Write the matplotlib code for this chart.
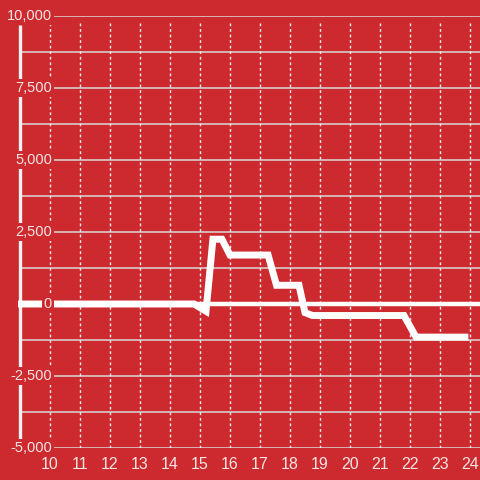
import matplotlib
matplotlib.use("Agg")
import matplotlib.pyplot as plt
import matplotlib.transforms as mtrans

# data
hours = [8.93, 14.8, 15.2, 15.43, 15.73, 16.0, 17.27, 17.55, 18.3, 18.5, 18.75, 21.8, 22.2, 23.83]
values = [0, 0, -250, 2250, 2250, 1700, 1700, 650, 650, -300, -400, -400, -1150, -1150]
x_ticks = list(range(10, 25))
y_major = [-5000, -2500, 0, 2500, 5000, 7500, 10000]
y_minor = [-3750, -1250, 1250, 3750, 6250, 8750]

BG = "#cd2a2f"
TXT = "#f3e4e4"
GRID = "#d9d9d9"

plt.rcParams["font.family"] = ["Liberation Sans", "DejaVu Sans"]

fig = plt.figure(figsize=(4.8, 4.8), dpi=100, facecolor=BG)
ax = fig.add_axes([18 / 480, 32 / 480, 462 / 480, 432 / 480])
ax.set_facecolor(BG)
ax.set_xlim(8.933, 24.333)
ax.set_ylim(-5000, 10000)
for s in ax.spines.values():
    s.set_visible(False)
ax.set_xticks([])
ax.set_yticks([])

# horizontal grid
for v in y_major + y_minor:
    ax.axhline(v, xmin=0.005, xmax=1, color=GRID, lw=1.1, zorder=1)
# vertical dotted grid
for x in x_ticks:
    ax.plot([x, x], [-5000, 9800], color="#eeeeee", lw=1, ls=(0, (2, 2)), zorder=1)

# left axis line and zero line
ax.plot([9.0, 9.0], [-4750, 9700], color="#f2f2f2", lw=2.4, zorder=2, solid_capstyle="butt")
ax.axhline(0, color="white", lw=3.2, zorder=2)

ax.plot(hours, values, color="white", lw=5, zorder=4, solid_joinstyle="miter")

# y labels with background boxes covering the lines
tr = mtrans.blended_transform_factory(ax.transAxes, ax.transData)
for v in y_major:
    ax.text(34 / 462, v, f"{v:,}", transform=tr, ha="right", va="center",
            color=TXT, fontsize=10.5, zorder=5,
            bbox=dict(facecolor=BG, edgecolor="none", pad=1.5))

for x in x_ticks:
    ax.text(x, -5300, str(x), ha="center", va="top", color=TXT, fontsize=11.5,
            clip_on=False)

fig.savefig("out.png", dpi=100, facecolor=BG)
